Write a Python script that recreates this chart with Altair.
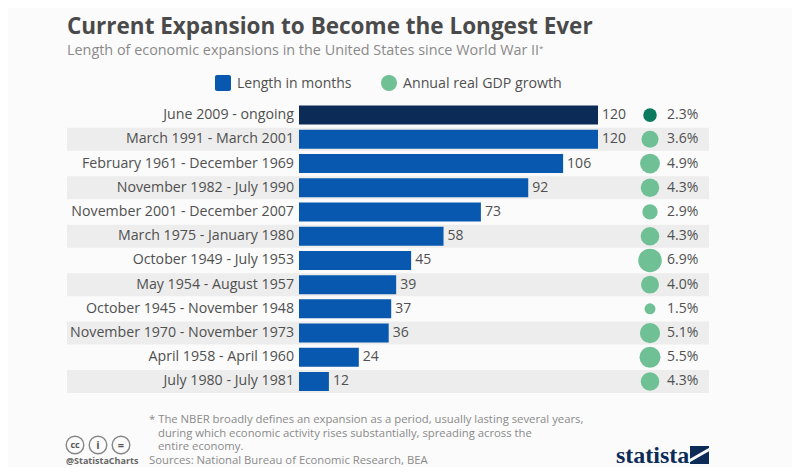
import altair as alt
import pandas as pd

periods = ["June 2009 - ongoing", "March 1991 - March 2001", "February 1961 - December 1969",
           "November 1982 - July 1990", "November 2001 - December 2007", "March 1975 - January 1980",
           "October 1949 - July 1953", "May 1954 - August 1957", "October 1945 - November 1948",
           "November 1970 - November 1973", "April 1958 - April 1960", "July 1980 - July 1981"]
months = [120, 120, 106, 92, 73, 58, 45, 39, 37, 36, 24, 12]
growth = [2.3, 3.6, 4.9, 4.3, 2.9, 4.3, 6.9, 4.0, 1.5, 5.1, 5.5, 4.3]
current = [True] + [False] * 11
striped = [i % 2 == 1 for i in range(12)]

FONT = "Open Sans"
TEXT = "#505050"
GREY = "#8a8a8a"
BLUE = "#0758ae"
NAVY = "#0d2b57"
GREEN = "#70c096"
DGREEN = "#0c7a5f"

df = pd.DataFrame({"period": periods, "months": months, "growth": growth,
                   "current": current, "striped": striped})
df["pct"] = [f"{g:.1f}%" for g in growth]

XSCALE = alt.Scale(domain=[0, 120], range=[291, 590])
Y = alt.Y("period:N", sort=periods, axis=None,
          scale=alt.Scale(domain=periods, range=[95, 385.6], paddingInner=0, paddingOuter=0))
X = alt.X("months:Q", axis=None, scale=XSCALE)
X0 = alt.X(datum=0, axis=None, scale=XSCALE)
base = alt.Chart(df)

bands = base.transform_filter("datum.striped").mark_bar(height=23, color="#ededed").encode(
    y=Y, x=alt.value(59), x2=alt.value(701))
bars = base.mark_bar(height=19).encode(
    y=Y, x=X, x2=alt.datum(0),
    color=alt.condition("datum.current", alt.value(NAVY), alt.value(BLUE)))
names = base.mark_text(align="right", baseline="middle", dx=-5, font=FONT, fontSize=14.2, color=TEXT).encode(
    y=Y, x=X0, text="period:N")
vals = base.mark_text(align="left", baseline="middle", dx=4, font=FONT, fontSize=14, color=TEXT).encode(
    y=Y, x=X, text="months:Q")
dots = base.mark_circle(opacity=1).encode(
    y=Y, x=alt.value(642),
    size=alt.Size("growth:Q", legend=None, scale=alt.Scale(domain=[0, 7], range=[0, 560], zero=True)),
    color=alt.condition("datum.current", alt.value(DGREEN), alt.value(GREEN)))
pcts = base.mark_text(align="left", baseline="middle", font=FONT, fontSize=14, color=TEXT).encode(
    y=Y, x=alt.value(659), text="pct:N")


def label(text, x, y, size=12, color=TEXT, weight="normal", font=FONT, align="left"):
    return alt.Chart(pd.DataFrame({"t": [text]})).mark_text(
        align=align, baseline="alphabetic", font=font, fontSize=size, color=color, fontWeight=weight,
        lineBreak="\n", lineHeight=13.5
    ).encode(x=alt.value(x), y=alt.value(y), text="t:N")


def ring(x, y):
    return alt.Chart(pd.DataFrame({"a": [0]})).mark_point(
        shape="circle", size=310, filled=False, color="#555555", strokeWidth=1.4
    ).encode(x=alt.value(x), y=alt.value(y))


note_first = "* The NBER broadly defines an expansion as a period, usually lasting several years,"
note_rest = ("during which economic activity rises substantially, spreading across the\n"
             "entire economy.")

texts = [
    label("Current Expansion to Become the Longest Ever", 59, 26, size=22.5, weight="bold", color="#4a4a4a"),
    label("Length of economic expansions in the United States since World War II", 59, 47, size=14.4, color=GREY),
    label("*", 531, 43, size=8, color=GREY),
    label("Length in months", 229, 80, size=14),
    label("Annual real GDP growth", 395, 80, size=14.2),
    label(note_first, 141, 415, size=11.3, color=GREY),
    label(note_rest, 150, 428.5, size=11.3, color=GREY),
    label("Sources: National Bureau of Economic Research, BEA", 141, 456, size=11.3, color=GREY),
    label("@StatistaCharts", 58, 456, size=9, weight="bold", color="#666666"),
    label("statista", 608, 455, size=24, weight="bold", color=NAVY, font="Liberation Sans Narrow"),
    label("cc", 67, 440, size=9, weight="bold", color="#555555", align="center"),
    label("i", 90, 441, size=11, weight="bold", color="#555555", align="center"),
    label("=", 113, 441, size=11, weight="bold", color="#555555", align="center"),
]
icons = [ring(67, 437), ring(90, 437), ring(113, 437)]

legend_square = alt.Chart(pd.DataFrame({"a": [0]})).mark_rect(color=BLUE, cornerRadius=2).encode(
    x=alt.value(207), x2=alt.value(223), y=alt.value(67), y2=alt.value(83))
legend_dot = alt.Chart(pd.DataFrame({"a": [0]})).mark_circle(color=GREEN, size=256, opacity=1).encode(
    x=alt.value(381), y=alt.value(75))
logo_box = alt.Chart(pd.DataFrame({"a": [0]})).mark_rect(color=NAVY).encode(
    x=alt.value(682), x2=alt.value(701), y=alt.value(438), y2=alt.value(456))
logo_cut = alt.Chart(pd.DataFrame({"a": [0]})).mark_rule(color="#fbfbfb", strokeWidth=3).encode(
    x=alt.value(681), x2=alt.value(702), y=alt.value(453), y2=alt.value(441))

chart = alt.layer(
    bands, bars, names, vals, dots, pcts, legend_square, legend_dot, logo_box, logo_cut, *icons, *texts
).resolve_scale(x="independent").properties(
    width=784, height=459, background="#fbfbfb", padding=0,
    autosize=alt.AutoSizeParams(type="none"),
).configure_view(stroke=None)

chart.save("out.html", embed_options={"renderer": "svg", "actions": False})
